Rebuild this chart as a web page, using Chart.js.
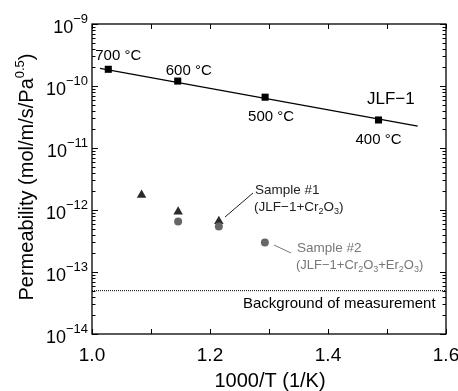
<!DOCTYPE html>
<html>
<head>
<meta charset="utf-8">
<script src="https://cdn.jsdelivr.net/npm/chart.js"></script>
<style>
  body { margin: 0; background: #fff; }
  #wrap { width: 458px; height: 391px; }
</style>
</head>
<body>
<div id="wrap"><canvas id="permChart" width="458" height="391"></canvas></div>
<script>
// values
const jlfInvT = [1.0276, 1.1453, 1.2934, 1.4856];
const jlfPerm = [1.86e-10, 1.2e-10, 6.6e-11, 2.83e-11];
const jlfTempLabels = ['700 °C', '600 °C', '500 °C', '400 °C'];

const fitInvT = [1.0136, 1.552];
const fitPerm = [1.93e-10, 2.26e-11];

const sample1InvT = [1.084, 1.146, 1.215];
const sample1Perm = [1.75e-12, 9.4e-13, 6.6e-13];

const sample2InvT = [1.146, 1.215, 1.293];
const sample2Perm = [6.5e-13, 5.4e-13, 3.0e-13];

const bgInvT = [1.0, 1.6];
const bgPerm = [5e-14, 5e-14];

const xMajorTicks = [1.0, 1.2, 1.4, 1.6];
const xMinorTicks = [1.1, 1.3, 1.5];
const yDecades = [-14, -13, -12, -11, -10, -9];

const FONT = "'Liberation Sans', Arial, sans-serif";

function pts(xs, ys) {
    return xs.map((x, i) => ({ x: x, y: ys[i] }));
}

// text with subscripts: odd-index parts are subscripts
function drawChem(ctx, x, y, parts, size) {
    ctx.textAlign = 'left';
    ctx.textBaseline = 'middle';
    let cx = x;
    parts.forEach((p, i) => {
        const sub = i % 2 === 1;
        ctx.font = (sub ? Math.round(size * 0.7) : size) + 'px ' + FONT;
        ctx.fillText(p, cx, sub ? y + 5 : y);
        cx += ctx.measureText(p).width;
    });
}

// draws frame, inside ticks, tick labels, titles and annotations
const decorPlugin = {
    id: 'decor',
    afterDatasetsDraw(chart) {
        const ctx = chart.ctx;
        const xs = chart.scales.x;
        const ys = chart.scales.y;
        const a = chart.chartArea;
        ctx.save();

        // temperature labels next to the JLF-1 squares
        const offs = [[10, -13], [11, -10], [6, 20], [0, 20]];
        ctx.fillStyle = '#000';
        ctx.font = '15px ' + FONT;
        ctx.textAlign = 'center';
        ctx.textBaseline = 'middle';
        jlfInvT.forEach((t, i) => {
            const px = xs.getPixelForValue(t);
            const py = ys.getPixelForValue(jlfPerm[i]);
            ctx.fillText(jlfTempLabels[i], px + offs[i][0], py + offs[i][1]);
        });

        ctx.font = '17px ' + FONT;
        ctx.textAlign = 'left';
        ctx.fillText('JLF\u22121', 367, 99);

        // sample #1 label + leader
        ctx.strokeStyle = '#222';
        ctx.lineWidth = 1;
        ctx.beginPath();
        ctx.moveTo(225, 217);
        ctx.lineTo(253, 193);
        ctx.stroke();
        ctx.fillStyle = '#222';
        ctx.font = '13.5px ' + FONT;
        ctx.fillText('Sample #1', 255, 190);
        drawChem(ctx, 254, 207, ['(JLF\u22121+Cr', '2', 'O', '3', ')'], 13.5);

        // sample #2 label + leader
        ctx.strokeStyle = '#777';
        ctx.beginPath();
        ctx.moveTo(274, 245);
        ctx.lineTo(291, 253);
        ctx.stroke();
        ctx.fillStyle = '#777';
        ctx.font = '13.5px ' + FONT;
        ctx.fillText('Sample #2', 297, 248);
        drawChem(ctx, 296, 265, ['(JLF\u22121+Cr', '2', 'O', '3', '+Er', '2', 'O', '3', ')'], 13);

        ctx.fillStyle = '#000';
        ctx.font = '15px ' + FONT;
        ctx.fillText('Background of measurement', 243, 304);

        // frame
        ctx.strokeStyle = '#000';
        ctx.lineWidth = 1.3;
        ctx.strokeRect(a.left, a.top, a.right - a.left, a.bottom - a.top);

        // x ticks (bottom and top, pointing inward)
        ctx.lineWidth = 1;
        xMajorTicks.concat(xMinorTicks).forEach(v => {
            const px = Math.round(xs.getPixelForValue(v)) + 0.5;
            ctx.beginPath();
            ctx.moveTo(px, a.bottom);
            ctx.lineTo(px, a.bottom - 5);
            ctx.moveTo(px, a.top);
            ctx.lineTo(px, a.top + 5);
            ctx.stroke();
        });

        // y ticks: decades and 2..9 minors, left and right
        yDecades.forEach(e => {
            for (let m = 1; m <= 9; m++) {
                if (e === -9 && m > 1) break;
                const py = Math.round(ys.getPixelForValue(m * Math.pow(10, e))) + 0.5;
                const len = m === 1 ? 6 : 3.5;
                ctx.beginPath();
                ctx.moveTo(a.left, py);
                ctx.lineTo(a.left + len, py);
                ctx.moveTo(a.right, py);
                ctx.lineTo(a.right - len, py);
                ctx.stroke();
            }
        });

        // x tick labels
        ctx.fillStyle = '#000';
        ctx.font = '19px ' + FONT;
        ctx.textAlign = 'center';
        ctx.textBaseline = 'alphabetic';
        xMajorTicks.forEach(v => {
            ctx.fillText(v.toFixed(1), xs.getPixelForValue(v), 361);
        });

        // y tick labels 10^e
        yDecades.forEach(e => {
            const py = ys.getPixelForValue(Math.pow(10, e));
            const sup = '\u2212' + Math.abs(e);
            ctx.font = '13px ' + FONT;
            const wSup = ctx.measureText(sup).width;
            ctx.font = '18px ' + FONT;
            const wBase = ctx.measureText('10').width;
            const right = a.left - 4;
            ctx.textAlign = 'left';
            ctx.fillText('10', right - wSup - wBase, py + 9);
            ctx.font = '13px ' + FONT;
            ctx.fillText(sup, right - wSup, py - 1);
        });

        // x title
        ctx.font = '20px ' + FONT;
        ctx.textAlign = 'center';
        ctx.fillText('1000/T (1/K)', 270, 387);

        // y title, rotated, with superscript
        ctx.save();
        ctx.translate(33, 177);
        ctx.rotate(-Math.PI / 2);
        ctx.textAlign = 'left';
        const p1 = 'Permeability (mol/m/s/Pa';
        const p2 = '0.5';
        const p3 = ')';
        ctx.font = '20px ' + FONT;
        const w1 = ctx.measureText(p1).width;
        const w3 = ctx.measureText(p3).width;
        ctx.font = '13px ' + FONT;
        const w2 = ctx.measureText(p2).width;
        const x0 = -(w1 + w2 + w3) / 2;
        ctx.font = '20px ' + FONT;
        ctx.fillText(p1, x0, 0);
        ctx.font = '13px ' + FONT;
        ctx.fillText(p2, x0 + w1, -9);
        ctx.font = '20px ' + FONT;
        ctx.fillText(p3, x0 + w1 + w2, 0);
        ctx.restore();

        ctx.restore();
    }
};

document.addEventListener('DOMContentLoaded', function () {
    const ctx = document.getElementById('permChart').getContext('2d');
    new Chart(ctx, {
        type: 'scatter',
        data: {
            datasets: [
                {
                    label: 'background',
                    data: pts(bgInvT, bgPerm),
                    showLine: true,
                    borderColor: '#000',
                    borderWidth: 1,
                    borderDash: [1, 1],
                    pointRadius: 0
                },
                {
                    label: 'fit',
                    data: pts(fitInvT, fitPerm),
                    showLine: true,
                    borderColor: '#000',
                    borderWidth: 1.2,
                    pointRadius: 0
                },
                {
                    label: 'JLF-1',
                    data: pts(jlfInvT, jlfPerm),
                    pointStyle: 'rect',
                    pointRadius: 5,
                    backgroundColor: '#000',
                    borderColor: '#000',
                    borderWidth: 0
                },
                {
                    label: 'Sample #2',
                    data: pts(sample2InvT, sample2Perm),
                    pointStyle: 'circle',
                    pointRadius: 4,
                    backgroundColor: '#666',
                    borderColor: '#666',
                    borderWidth: 0
                },
                {
                    label: 'Sample #1',
                    data: pts(sample1InvT, sample1Perm),
                    pointStyle: 'triangle',
                    pointRadius: 5.5,
                    backgroundColor: '#2b2b2b',
                    borderColor: '#2b2b2b',
                    borderWidth: 0
                }
            ]
        },
        options: {
            responsive: false,
            animation: false,
            layout: { padding: { left: 92, right: 12, top: 24, bottom: 57 } },
            plugins: {
                legend: { display: false },
                tooltip: { enabled: false }
            },
            scales: {
                x: { type: 'linear', min: 1.0, max: 1.6, display: false },
                y: { type: 'logarithmic', min: 1e-14, max: 1e-9, display: false }
            }
        },
        plugins: [decorPlugin]
    });
});
</script>
</body>
</html>
